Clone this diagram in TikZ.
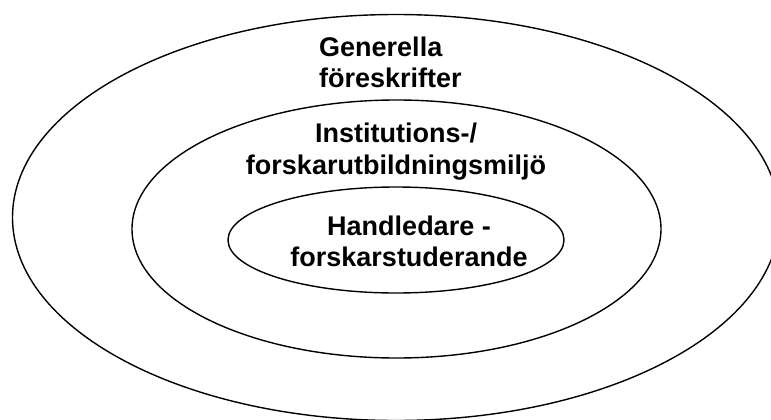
\documentclass[tikz,border=0pt]{standalone}
\usepackage{fontspec}
\setmainfont{Liberation Sans}
\newfontfamily\boldsans{LiberationSans-Bold.ttf}
\usepackage{tikz}
\usetikzlibrary{calc}

\begin{document}
\begin{tikzpicture}[x=1pt,y=-1pt,
    ring/.style={draw,line width=1.4pt},
    lbl/.style={inner sep=0pt,font=\boldsans\fontsize{27}{31.5}\selectfont}]
  \clip (0,0) rectangle (771,420); %只显示图片区域
  \draw[ring] (396,217.5) ellipse [x radius=383.5, y radius=203];
  \draw[ring] (396.5,229) ellipse [x radius=264.5, y radius=129];
  \draw[ring] (396,240) ellipse [x radius=168, y radius=53];
  \node[lbl,align=left,anchor=west] (generella) at (319,62.5) {Generella\\föreskrifter};
  \node[lbl,align=center] (miljo) at (396,151.5) {Institutions-/\\forskarutbildningsmiljö};
  \node[lbl,align=center] (handledare) at (409,241.3) {Handledare -\\forskarstuderande};
\end{tikzpicture}
\end{document}
